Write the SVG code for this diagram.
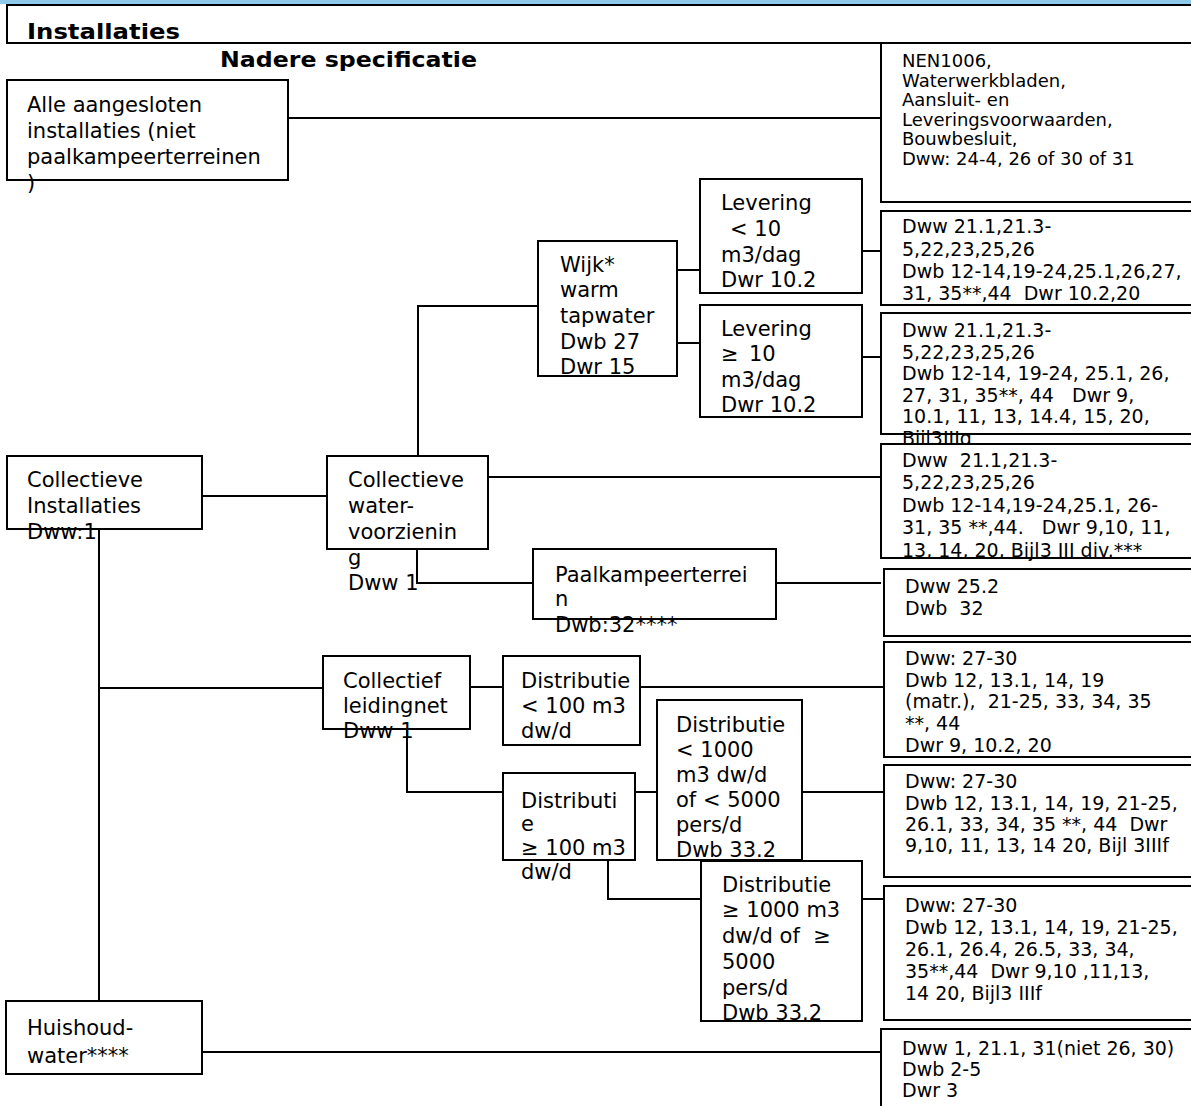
<svg xmlns="http://www.w3.org/2000/svg" width="1191" height="1106" viewBox="0 0 1191 1106">
<style>
.box{fill:#fff;stroke:#000;stroke-width:2}
.c{fill:none;stroke:#000;stroke-width:2}
text{font-family:"DejaVu Sans",Verdana,sans-serif;fill:#000;white-space:pre}
.n{font-size:21px}
.s{font-size:19px}
.s1{font-size:18px}
.h{font-size:22px;font-weight:bold}
</style>
<rect x="0" y="0" width="1191" height="4" fill="#8ec9ea"/>
<g id="connectors">
<path class="c" d="M288,118H881"/>
<path class="c" d="M418,456V306H538"/>
<path class="c" d="M677,270H700"/>
<path class="c" d="M677,343H700"/>
<path class="c" d="M862,251H881"/>
<path class="c" d="M862,357H881"/>
<path class="c" d="M202,496H327"/>
<path class="c" d="M488,477H881"/>
<path class="c" d="M417,549V583H533"/>
<path class="c" d="M773,583H881"/>
<path class="c" d="M99,529V1001"/>
<path class="c" d="M99,688H323"/>
<path class="c" d="M470,687H503"/>
<path class="c" d="M640,687H884"/>
<path class="c" d="M407,729V792H503"/>
<path class="c" d="M635,792H657"/>
<path class="c" d="M802,792H884"/>
<path class="c" d="M608,860V899H701"/>
<path class="c" d="M862,899H884"/>
<path class="c" d="M202,1052H881"/>
</g>
<g id="header"><rect class="box" x="7" y="5" width="1200" height="38"/><text class="h" x="27" y="39" textLength="153" lengthAdjust="spacingAndGlyphs">Installaties</text></g>
<g id="title"><text class="h" x="220" y="67" textLength="257" lengthAdjust="spacingAndGlyphs">Nadere specificatie</text></g>
<g id="alle"><rect class="box" x="7" y="80" width="281" height="100"/><text class="n"><tspan x="27" y="112">Alle aangesloten</tspan><tspan x="27" y="138">installaties (niet</tspan><tspan x="27" y="164">paalkampeerterreinen</tspan><tspan x="27" y="190">)</tspan></text></g>
<g id="spec1"><rect class="box" x="881" y="43" width="320" height="159"/><text class="s1"><tspan x="902" y="67">NEN1006,</tspan><tspan x="902" y="86.5">Waterwerkbladen,</tspan><tspan x="902" y="106">Aansluit- en</tspan><tspan x="902" y="125.5">Leveringsvoorwaarden,</tspan><tspan x="902" y="145">Bouwbesluit,</tspan><tspan x="902" y="164.5">Dww: 24-4, 26 of 30 of 31</tspan></text></g>
<g id="wijk"><rect class="box" x="538" y="241" width="139" height="135"/><text class="n"><tspan x="560" y="272">Wijk*</tspan><tspan x="560" y="297">warm</tspan><tspan x="560" y="323">tapwater</tspan><tspan x="560" y="349">Dwb 27</tspan><tspan x="560" y="374">Dwr 15</tspan></text></g>
<g id="lev-lt10"><rect class="box" x="700" y="179" width="162" height="114"/><text class="n"><tspan x="721" y="210">Levering</tspan><tspan x="730" y="236">&lt; 10</tspan><tspan x="721" y="262">m3/dag</tspan><tspan x="721" y="287">Dwr 10.2</tspan></text></g>
<g id="lev-ge10"><rect class="box" x="700" y="305" width="162" height="112"/><text class="n"><tspan x="721" y="336">Levering</tspan><tspan x="721" y="361">≥</tspan><tspan x="749" y="361">10</tspan><tspan x="721" y="387">m3/dag</tspan><tspan x="721" y="412">Dwr 10.2</tspan></text></g>
<g id="spec2"><rect class="box" x="881" y="211" width="320" height="94"/><text class="s"><tspan x="902" y="233">Dww 21.1,21.3-</tspan><tspan x="902" y="255.5">5,22,23,25,26</tspan><tspan x="902" y="278">Dwb 12-14,19-24,25.1,26,27,</tspan><tspan x="902" y="300">31, 35**,44  Dwr 10.2,20</tspan></text></g>
<g id="spec3"><rect class="box" x="881" y="313" width="320" height="121"/><text class="s"><tspan x="902" y="337">Dww 21.1,21.3-</tspan><tspan x="902" y="358.5">5,22,23,25,26</tspan><tspan x="902" y="380">Dwb 12-14, 19-24, 25.1, 26,</tspan><tspan x="902" y="401.5">27, 31, 35**, 44   Dwr 9,</tspan><tspan x="902" y="423">10.1, 11, 13, 14.4, 15, 20,</tspan><tspan x="902" y="444.5">Bijl3IIIg</tspan></text></g>
<g id="coll-inst"><rect class="box" x="7" y="456" width="195" height="73"/><text class="n"><tspan x="27" y="487">Collectieve</tspan><tspan x="27" y="513">Installaties</tspan><tspan x="27" y="539">Dww:1</tspan></text></g>
<g id="coll-water"><rect class="box" x="327" y="456" width="161" height="93"/><text class="n"><tspan x="348" y="487">Collectieve</tspan><tspan x="348" y="513">water-</tspan><tspan x="348" y="539">voorzienin</tspan><tspan x="348" y="565">g</tspan><tspan x="348" y="590">Dww 1</tspan></text></g>
<g id="spec4"><rect class="box" x="881" y="444" width="320" height="114"/><text class="s"><tspan x="902" y="466.5">Dww  21.1,21.3-</tspan><tspan x="902" y="489">5,22,23,25,26</tspan><tspan x="902" y="511.5">Dwb 12-14,19-24,25.1, 26-</tspan><tspan x="902" y="534">31, 35 **,44.   Dwr 9,10, 11,</tspan><tspan x="902" y="556.5">13, 14, 20, Bijl3 III div.***</tspan></text></g>
<g id="paal"><rect class="box" x="533" y="549" width="243" height="70"/><text class="n"><tspan x="555" y="582">Paalkampeerterrei</tspan><tspan x="555" y="606">n</tspan><tspan x="555" y="632">Dwb:32****</tspan></text></g>
<g id="spec5"><rect class="box" x="884" y="569" width="320" height="67"/><text class="s"><tspan x="905" y="593">Dww 25.2</tspan><tspan x="905" y="615">Dwb  32</tspan></text></g>
<g id="coll-leiding"><rect class="box" x="323" y="656" width="147" height="73"/><text class="n"><tspan x="343" y="688">Collectief</tspan><tspan x="343" y="713">leidingnet</tspan><tspan x="343" y="738">Dww 1</tspan></text></g>
<g id="dist-lt100"><rect class="box" x="503" y="656" width="137" height="89"/><text class="n"><tspan x="521" y="688">Distributie</tspan><tspan x="521" y="713">&lt; 100 m3</tspan><tspan x="521" y="738">dw/d</tspan></text></g>
<g id="spec6"><rect class="box" x="884" y="642" width="320" height="115"/><text class="s"><tspan x="905" y="665">Dww: 27-30</tspan><tspan x="905" y="686.7">Dwb 12, 13.1, 14, 19</tspan><tspan x="905" y="708.3">(matr.),  21-25, 33, 34, 35</tspan><tspan x="905" y="730">**, 44</tspan><tspan x="905" y="751.7">Dwr 9, 10.2, 20</tspan></text></g>
<g id="dist-ge100"><rect class="box" x="503" y="773" width="132" height="87"/><text class="n"><tspan x="521" y="808">Distributi</tspan><tspan x="521" y="831">e</tspan><tspan x="521" y="855">≥ 100 m3</tspan><tspan x="521" y="879">dw/d</tspan></text></g>
<g id="dist-lt1000"><rect class="box" x="657" y="700" width="145" height="160"/><text class="n"><tspan x="676" y="732">Distributie</tspan><tspan x="676" y="757">&lt; 1000</tspan><tspan x="676" y="782">m3 dw/d</tspan><tspan x="676" y="807">of &lt; 5000</tspan><tspan x="676" y="832">pers/d</tspan><tspan x="676" y="857">Dwb 33.2</tspan></text></g>
<g id="spec7"><rect class="box" x="884" y="765" width="320" height="112"/><text class="s"><tspan x="905" y="788.3">Dww: 27-30</tspan><tspan x="905" y="809.5">Dwb 12, 13.1, 14, 19, 21-25,</tspan><tspan x="905" y="830.6">26.1, 33, 34, 35 **, 44  Dwr</tspan><tspan x="905" y="851.7">9,10, 11, 13, 14 20, Bijl 3IIIf</tspan></text></g>
<g id="dist-ge1000"><rect class="box" x="701" y="861" width="161" height="160"/><text class="n"><tspan x="722" y="892">Distributie</tspan><tspan x="722" y="917">≥ 1000 m3</tspan><tspan x="722" y="943">dw/d of  ≥</tspan><tspan x="722" y="969">5000</tspan><tspan x="722" y="995">pers/d</tspan><tspan x="722" y="1020">Dwb 33.2</tspan></text></g>
<g id="spec8"><rect class="box" x="884" y="886" width="320" height="134"/><text class="s"><tspan x="905" y="911.7">Dww: 27-30</tspan><tspan x="905" y="933.7">Dwb 12, 13.1, 14, 19, 21-25,</tspan><tspan x="905" y="955.7">26.1, 26.4, 26.5, 33, 34,</tspan><tspan x="905" y="977.7">35**,44  Dwr 9,10 ,11,13,</tspan><tspan x="905" y="999.7">14 20, Bijl3 IIIf</tspan></text></g>
<g id="huishoud"><rect class="box" x="6" y="1001" width="196" height="73"/><text class="n"><tspan x="27" y="1035">Huishoud-</tspan><tspan x="27" y="1063">water****</tspan></text></g>
<g id="spec9"><rect class="box" x="881" y="1029" width="320" height="100"/><text class="s"><tspan x="902" y="1055">Dww 1, 21.1, 31(niet 26, 30)</tspan><tspan x="902" y="1076">Dwb 2-5</tspan><tspan x="902" y="1097">Dwr 3</tspan></text></g>
</svg>
